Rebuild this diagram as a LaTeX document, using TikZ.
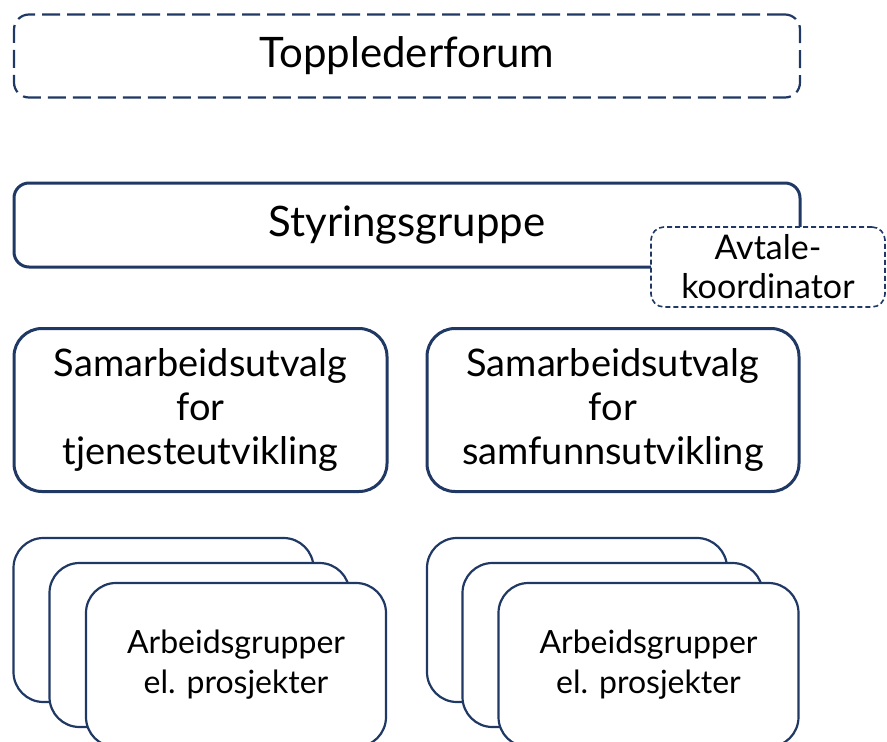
\documentclass[tikz,border=0pt]{standalone}
\usepackage{fontspec}
\setmainfont{Lato}
\definecolor{navy}{HTML}{203864}
\tikzset{
	boksdash/.style={draw=navy, line width=1.6pt, dash pattern=on 5pt off 3pt, rounded corners=13pt, fill=white, align=center},
	bokstykk/.style={draw=navy, line width=3pt, rounded corners=15pt, fill=white, align=center},
	bokssam/.style={draw=navy, line width=3pt, rounded corners=28pt, fill=white, align=center, minimum height=163pt, font=\fontsize{38}{44}\selectfont},
	kort/.style={draw=navy, line width=2.2pt, rounded corners=30pt, fill=white, minimum width=300pt, minimum height=164pt, align=center, font=\fontsize{32}{40}\selectfont}
}
\begin{document}
\begin{tikzpicture}[x=1pt,y=-1pt]
			%%%%% START %%%%%
			\useasboundingbox (0,0) rectangle (887,742);
			\clip (0,0) rectangle (887,742);
			
			\node[boksdash, line width=2.2pt, dash pattern=on 18pt off 7pt, rounded corners=15pt, minimum width=786pt, minimum height=83pt, font=\fontsize{42}{46}\selectfont] (topp) at (407,56) {Topplederforum};
			
			\node[bokstykk, minimum width=786pt, minimum height=84pt, font=\fontsize{42}{46}\selectfont] (styr) at (407,225) {Styringsgruppe};
			\node[boksdash, minimum width=234pt, minimum height=80pt, font=\fontsize{34}{39}\selectfont] (avtale) at (768,267) {Avtale-\\koordinator};
			
			\node[bokssam, minimum width=373pt] (samtj) at (200.5,410) {Samarbeidsutvalg\\for\\tjenesteutvikling};
			\node[bokssam, minimum width=372pt] (samfu) at (613,410) {Samarbeidsutvalg\\for\\samfunnsutvikling};
			
			\node[kort] (tjbak) at (163.5,620) {};
			\node[kort] (tjmid) at (199.5,645) {};
			\node[kort] (tjfor) at (236,665) {Arbeidsgrupper\\el. prosjekter};
			
			\node[kort] (fubak) at (577,620) {};
			\node[kort] (fumid) at (612.5,645) {};
			\node[kort] (fufor) at (648.5,665) {Arbeidsgrupper\\el. prosjekter};
			
			%%%%% END %%%%%
\end{tikzpicture}
\end{document}
